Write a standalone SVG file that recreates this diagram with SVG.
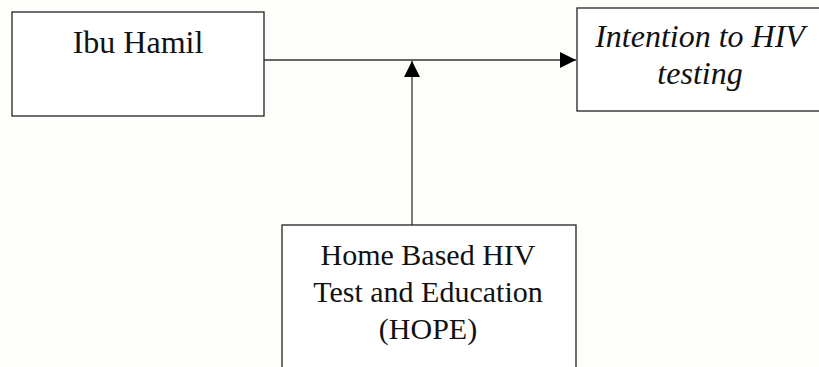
<svg xmlns="http://www.w3.org/2000/svg" width="819" height="367" viewBox="0 0 819 367">
  <style>
    .box { fill: #ffffff; stroke: #222222; stroke-width: 1.3; }
    .lbl { font-family: "Liberation Serif", "Times New Roman", serif; fill: #111111; text-anchor: middle; }
    .it { font-style: italic; }
    .edge { stroke: #333333; stroke-width: 1.3; fill: none; }
  </style>
  <defs>
    <marker id="arrow" viewBox="0 0 16 16" refX="16" refY="8" markerWidth="16" markerHeight="16" markerUnits="userSpaceOnUse" orient="auto">
      <path d="M0,0 L16,8 L0,16 Z" fill="#000000"/>
    </marker>
  </defs>

  <rect x="0" y="0" width="819" height="367" fill="#fdfdf9"/>

  <g id="connectors">
    <line class="edge" x1="264" y1="60" x2="576" y2="60" marker-end="url(#arrow)"/>
    <line class="edge" x1="412" y1="225" x2="412" y2="61" marker-end="url(#arrow)"/>
  </g>

  <g id="ibu-hamil">
    <rect class="box" x="12" y="12" width="252" height="104"/>
    <text class="lbl" x="138" y="53" font-size="32">Ibu Hamil</text>
  </g>

  <g id="intention">
    <rect class="box" x="577" y="8" width="250" height="103"/>
    <text class="lbl it" x="700" y="47" font-size="32">Intention to HIV</text>
    <text class="lbl it" x="700" y="84" font-size="32">testing</text>
  </g>

  <g id="hope">
    <rect class="box" x="282" y="225" width="294" height="160"/>
    <text class="lbl" x="428" y="265" font-size="30">Home Based HIV</text>
    <text class="lbl" x="428" y="302" font-size="30">Test and Education</text>
    <text class="lbl" x="428" y="339" font-size="30">(HOPE)</text>
  </g>
</svg>
